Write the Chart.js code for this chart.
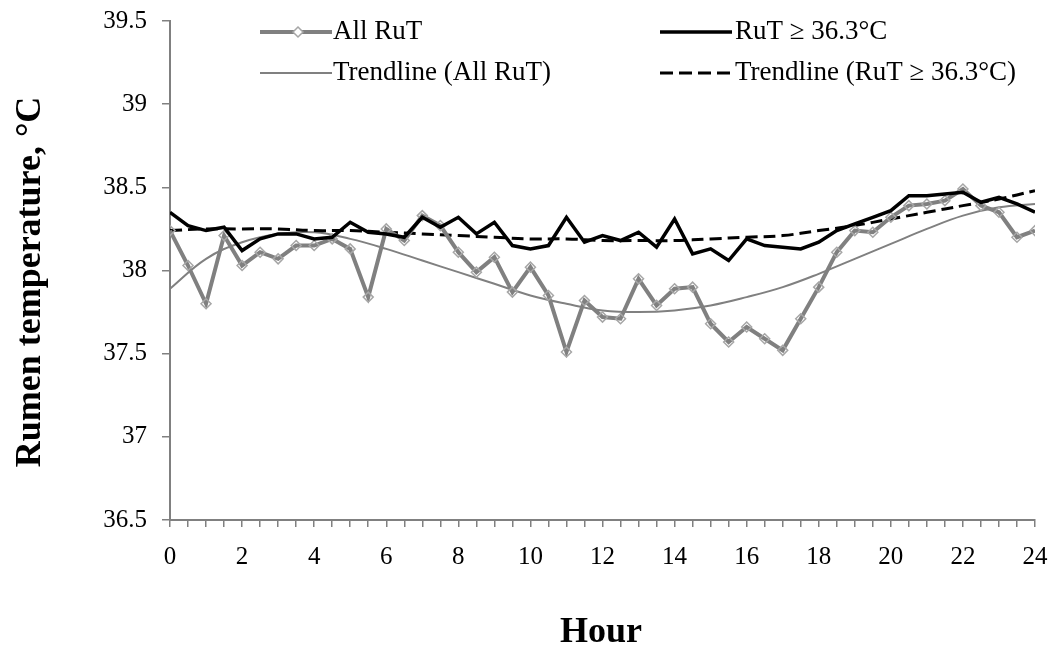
<!DOCTYPE html>
<html><head><meta charset="utf-8">
<script src="https://cdn.jsdelivr.net/npm/chart.js@4"></script>
<style>html,body{margin:0;padding:0;background:#fff}canvas{display:block}</style>
</head><body>
<canvas id="c" width="1055" height="652"></canvas>
<script>
const hours = [0,0.5,1,1.5,2,2.5,3,3.5,4,4.5,5,5.5,6,6.5,7,7.5,8,8.5,9,9.5,10,10.5,11,11.5,12,12.5,13,13.5,14,14.5,15,15.5,16,16.5,17,17.5,18,18.5,19,19.5,20,20.5,21,21.5,22,22.5,23,23.5,24];
const allRuT = [38.24,38.03,37.80,38.21,38.03,38.11,38.07,38.15,38.15,38.19,38.13,37.84,38.25,38.18,38.33,38.27,38.11,37.99,38.08,37.87,38.02,37.85,37.51,37.82,37.72,37.71,37.95,37.79,37.89,37.90,37.68,37.57,37.66,37.59,37.52,37.71,37.90,38.11,38.24,38.23,38.32,38.39,38.40,38.42,38.49,38.39,38.35,38.20,38.24];
const rutAbove = [38.35,38.27,38.24,38.26,38.12,38.19,38.22,38.22,38.19,38.20,38.29,38.23,38.22,38.20,38.32,38.26,38.32,38.22,38.29,38.15,38.13,38.15,38.32,38.17,38.21,38.18,38.23,38.14,38.31,38.10,38.13,38.06,38.19,38.15,38.14,38.13,38.17,38.24,38.28,38.32,38.36,38.45,38.45,38.46,38.47,38.41,38.44,38.40,38.35];
const trendHours = [0,1,2,3,4,5,6,7,8,9,10,11,12,13,14,15,16,17,18,19,20,21,22,23,24];
const trendAll = [37.89,38.07,38.17,38.22,38.23,38.19,38.13,38.06,37.99,37.92,37.85,37.80,37.76,37.75,37.76,37.79,37.84,37.90,37.98,38.07,38.16,38.25,38.33,38.38,38.40];
const trendAbove = [38.24,38.25,38.25,38.25,38.24,38.24,38.23,38.22,38.21,38.20,38.19,38.19,38.18,38.18,38.18,38.19,38.20,38.21,38.24,38.27,38.31,38.35,38.39,38.43,38.48];
const yTickLabels = ['36.5','37','37.5','38','38.5','39','39.5'];
const xTickLabels = ['0','2','4','6','8','10','12','14','16','18','20','22','24'];
const seriesNames = ['All RuT','RuT \u2265 36.3\u00B0C','Trendline (All RuT)','Trendline (RuT \u2265 36.3\u00B0C)'];

const SERIF = "'Liberation Serif','Times New Roman',serif";
const pts = (xs, ys) => xs.map((x, i) => ({x: x, y: ys[i]}));

const overlay = {
  id: 'overlay',
  afterDraw(chart) {
    const ctx = chart.ctx;
    ctx.save();
    ctx.font = '27px ' + SERIF;
    ctx.fillStyle = '#000';
    ctx.textBaseline = 'middle';
    ctx.textAlign = 'left';
    const r1 = 32, r2 = 73;
    // All RuT
    ctx.strokeStyle = '#808080'; ctx.lineWidth = 4; ctx.setLineDash([]);
    ctx.beginPath(); ctx.moveTo(260, r1); ctx.lineTo(332, r1); ctx.stroke();
    ctx.beginPath(); ctx.moveTo(298, r1 - 5); ctx.lineTo(303, r1); ctx.lineTo(298, r1 + 5); ctx.lineTo(293, r1); ctx.closePath();
    ctx.fillStyle = '#fff'; ctx.fill(); ctx.strokeStyle = '#a6a6a6'; ctx.lineWidth = 1.5; ctx.stroke();
    ctx.fillStyle = '#000';
    ctx.fillText(seriesNames[0], 333, r1);
    // RuT >= 36.3
    ctx.strokeStyle = '#000'; ctx.lineWidth = 3.5;
    ctx.beginPath(); ctx.moveTo(660, r1); ctx.lineTo(732, r1); ctx.stroke();
    ctx.fillText(seriesNames[1], 735, r1);
    // Trendline All
    ctx.strokeStyle = '#808080'; ctx.lineWidth = 2;
    ctx.beginPath(); ctx.moveTo(260, r2); ctx.lineTo(332, r2); ctx.stroke();
    ctx.fillText(seriesNames[2], 333, r2);
    // Trendline above
    ctx.strokeStyle = '#000'; ctx.lineWidth = 3; ctx.setLineDash([13, 6]);
    ctx.beginPath(); ctx.moveTo(660, r2); ctx.lineTo(732, r2); ctx.stroke();
    ctx.setLineDash([]);
    ctx.fillText(seriesNames[3], 735, r2);
    // Axis titles
    ctx.font = 'bold 36px ' + SERIF;
    ctx.textAlign = 'center';
    ctx.fillText('Hour', 601, 633);
    ctx.translate(31, 282);
    ctx.rotate(-Math.PI / 2);
    ctx.fillText('Rumen temperature, \u00B0C', 0, 0);
    ctx.restore();
  }
};

new Chart(document.getElementById('c'), {
  type: 'line',
  data: {
    datasets: [
      {label: seriesNames[1], data: pts(hours, rutAbove), borderColor: '#000', borderWidth: 3.5, pointRadius: 0, tension: 0, fill: false},
      {label: seriesNames[0], data: pts(hours, allRuT), borderColor: '#808080', borderWidth: 4, pointStyle: 'rectRot', pointRadius: 5, pointBorderColor: '#a6a6a6', pointBackgroundColor: 'rgba(255,255,255,0)', pointBorderWidth: 1.5, tension: 0, fill: false},
      {label: seriesNames[3], data: pts(trendHours, trendAbove), borderColor: '#000', borderWidth: 3, borderDash: [12, 6], pointRadius: 0, tension: 0.4, fill: false},
      {label: seriesNames[2], data: pts(trendHours, trendAll), borderColor: '#808080', borderWidth: 2, pointRadius: 0, tension: 0.4, fill: false}
    ]
  },
  options: {
    responsive: false,
    animation: false,
    events: [],
    layout: {padding: {top: 21, right: 20, left: 0, bottom: 0}},
    plugins: {legend: {display: false}, tooltip: {enabled: false}},
    scales: {
      x: {
        type: 'linear', min: 0, max: 24,
        afterBuildTicks: s => { s.ticks = hours.map(v => ({value: v})); },
        afterFit: s => { s.height = 132; s.paddingLeft = 0; s.paddingRight = 0; },
        ticks: {
          autoSkip: false, maxRotation: 0, minRotation: 0, padding: 15, color: '#000',
          font: {family: SERIF, size: 25},
          callback: v => (v % 2 === 0 ? xTickLabels[v / 2] : '')
        },
        grid: {drawOnChartArea: false, drawTicks: true, tickLength: 7, color: '#808080', lineWidth: 1.5},
        border: {display: true, color: '#808080', width: 2}
      },
      y: {
        min: 36.5, max: 39.5,
        afterBuildTicks: s => { s.ticks = yTickLabels.map(t => ({value: parseFloat(t)})); },
        afterFit: s => { s.width = 170; s.paddingTop = 0; s.paddingBottom = 0; },
        ticks: {
          padding: 15, color: '#000', font: {family: SERIF, size: 25},
          callback: (v, i) => yTickLabels[i]
        },
        grid: {drawOnChartArea: false, drawTicks: true, tickLength: 8, color: '#808080', lineWidth: 1.5},
        border: {display: true, color: '#808080', width: 2}
      }
    }
  },
  plugins: [overlay]
});
</script>
</body></html>
